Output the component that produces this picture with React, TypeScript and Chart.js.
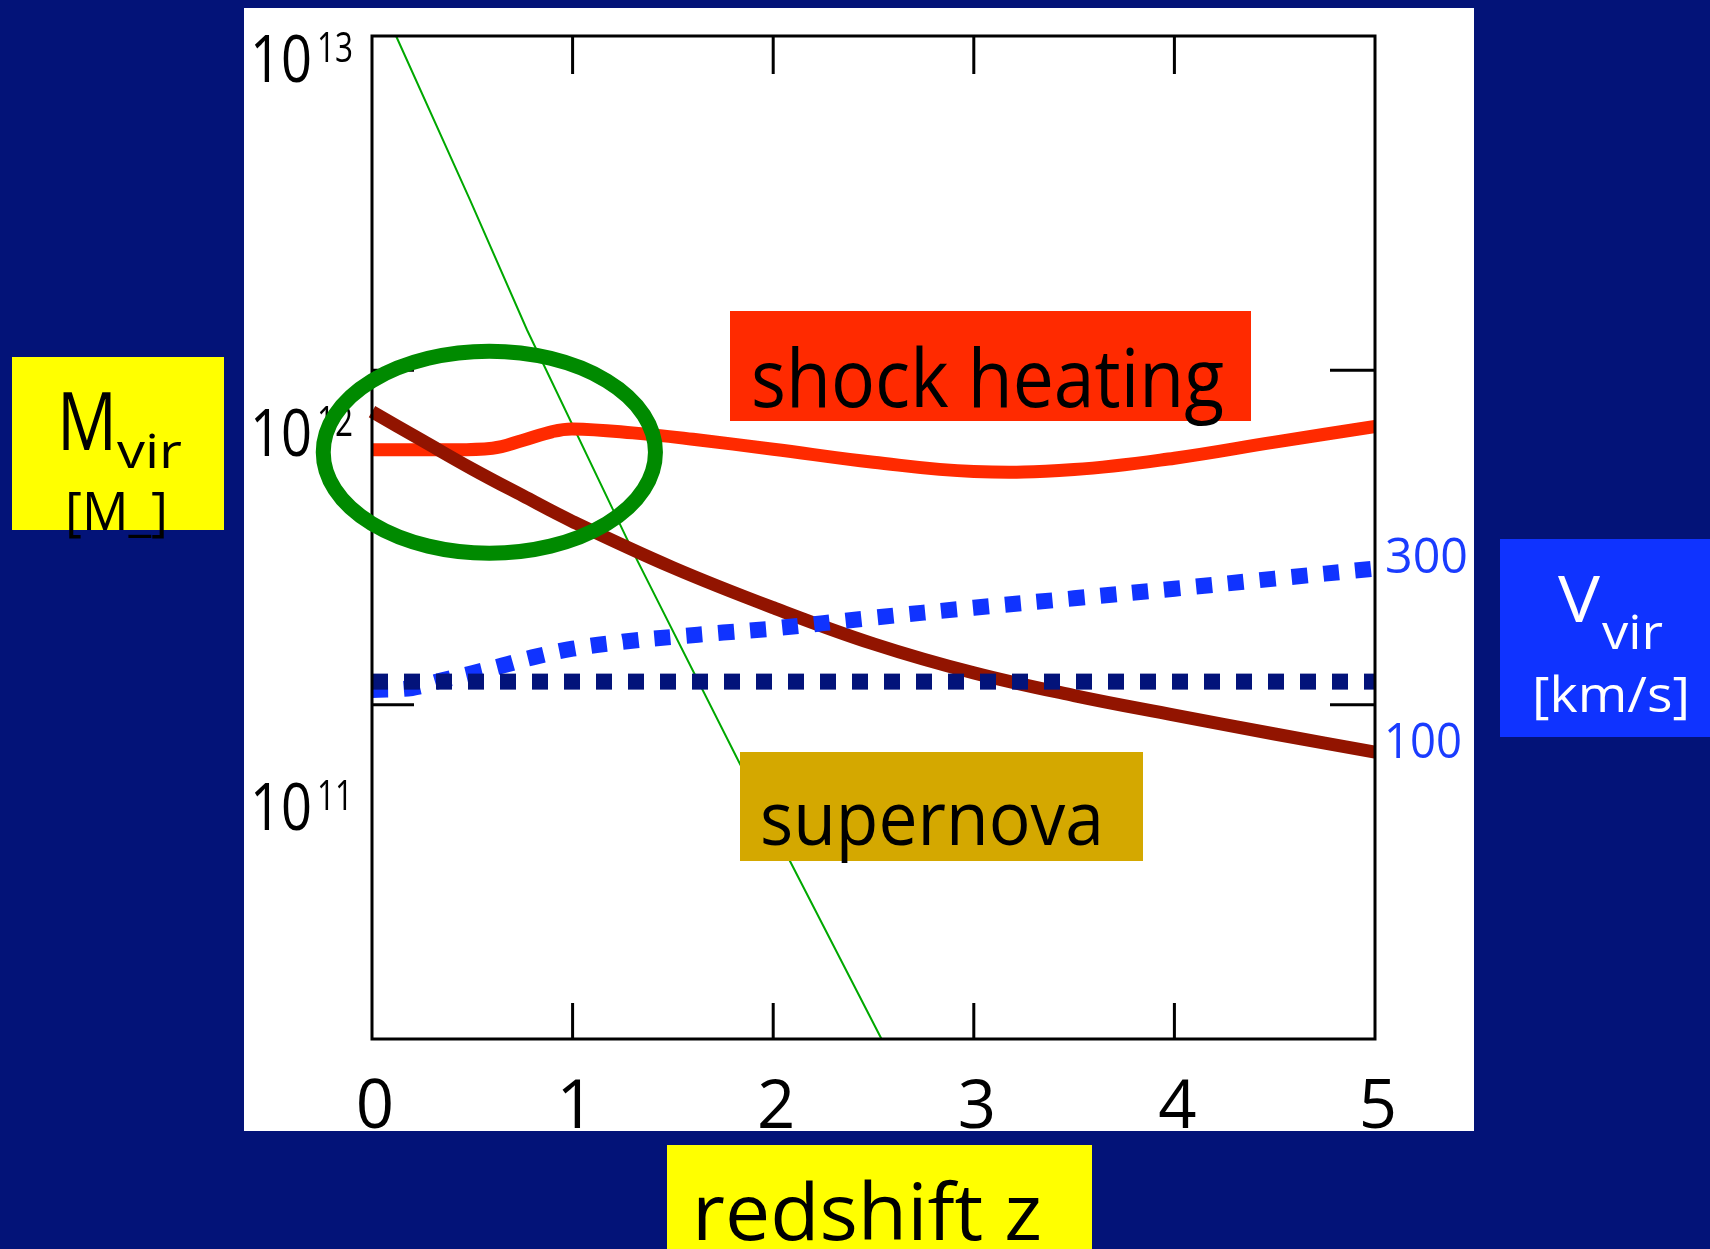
import React, { useEffect, useRef } from "react";
import { Chart, registerables } from "chart.js";

Chart.register(...registerables);

// ---------------- data ----------------
// redshift z  vs  halo virial mass M_vir [M_sun]
const shockZ = [0, 0.3, 0.6, 0.75, 0.9, 1.0, 1.3, 1.6, 2.0, 2.5, 3.0, 3.5, 4.0, 4.5, 5.0];
const shockM = [5.79e11, 5.79e11, 5.85e11, 6.17e11, 6.56e11, 6.68e11, 6.5e11, 6.22e11, 5.81e11, 5.31e11, 4.98e11, 5.05e11, 5.46e11, 6.1e11, 6.79e11];

const coolZ = [0, 0.25, 0.5, 0.75, 1.0, 1.5, 2.0, 2.5, 3.0, 3.5, 4.0, 4.5, 5.0];
const coolM = [7.52e11, 6.17e11, 5.07e11, 4.22e11, 3.53e11, 2.57e11, 1.95e11, 1.52e11, 1.245e11, 1.065e11, 9.31e10, 8.17e10, 7.21e10];

const vvirZ = [0, 0.2, 0.35, 0.5, 0.65, 0.8, 1.0, 1.25, 1.5, 1.75, 2.0, 2.5, 3.0, 3.5, 4.0, 4.5, 5.0];
const vvirM = [1.107e11, 1.122e11, 1.183e11, 1.242e11, 1.309e11, 1.385e11, 1.47e11, 1.542e11, 1.595e11, 1.643e11, 1.69e11, 1.82e11, 1.95e11, 2.08e11, 2.223e11, 2.382e11, 2.553e11];

const floorZ = [0, 5];
const floorM = [1.172e11, 1.172e11];

const nonlinZ = [0.12, 0.489, 0.773, 1.321, 1.825, 2.54];
const nonlinM = [1e13, 3.23e12, 1.32e12, 2.71e11, 6.82e10, 1e10];

const xLabelValues = [0, 1, 2, 3, 4, 5];
const xTickMarks = [1, 2, 3, 4];
const yTickMarks = [1e11, 1e12];
const yLabelValues = [1e13, 1e12, 1e11];
const yLabelBase = ["10", "10", "10"];
const yLabelExp = ["13", "12", "11"];
const vLabels = ["300", "100"];

// ellipse annotation (data units)
const ringCenterZ = 0.585;
const ringCenterM = 5.69e11;
const ringHalfZ = 0.828;
const ringHalfDex = 0.302;

// ---------------- styles / layout ----------------
const NAVY = "#031378";
const FONT = "'Comic Sans MS', 'Open Sans', 'DejaVu Sans', sans-serif";
const PANEL = { x: 244, y: 8, w: 1230, h: 1123 };
const yLabelDrop = [46, 86, 125];

const pts = (xs: number[], ys: number[]) => xs.map((x, i) => ({ x, y: ys[i] }));

function drawText(
  ctx: CanvasRenderingContext2D,
  str: string,
  x: number,
  y: number,
  size: number,
  color: string,
  fitW?: number,
  center?: boolean
) {
  ctx.save();
  ctx.font = `${size}px ${FONT}`;
  ctx.fillStyle = color;
  ctx.textBaseline = "alphabetic";
  ctx.textAlign = "left";
  const w = ctx.measureText(str).width;
  const sx = fitW ? fitW / w : 1;
  const left = center ? x - (w * sx) / 2 : x;
  ctx.translate(left, y);
  ctx.scale(sx, 1);
  ctx.fillText(str, 0, 0);
  ctx.restore();
}

const slidePlugin = {
  id: "slide",
  beforeDraw(chart: any) {
    const ctx = chart.ctx as CanvasRenderingContext2D;
    ctx.save();
    ctx.fillStyle = NAVY;
    ctx.fillRect(0, 0, chart.width, chart.height);
    ctx.fillStyle = "#ffffff";
    ctx.fillRect(PANEL.x, PANEL.y, PANEL.w, PANEL.h);
    ctx.restore();
  },
  afterDraw(chart: any) {
    const ctx = chart.ctx as CanvasRenderingContext2D;
    const a = chart.chartArea;
    const xs = chart.scales.x;
    const ys = chart.scales.y;

    // frame + inward ticks
    ctx.save();
    ctx.strokeStyle = "#000";
    ctx.lineWidth = 3;
    ctx.strokeRect(a.left, a.top, a.right - a.left, a.bottom - a.top);
    ctx.beginPath();
    for (const v of xTickMarks) {
      const px = xs.getPixelForValue(v);
      ctx.moveTo(px, a.top);
      ctx.lineTo(px, a.top + 38);
      ctx.moveTo(px, a.bottom);
      ctx.lineTo(px, a.bottom - 36);
    }
    for (const v of yTickMarks) {
      const py = ys.getPixelForValue(v);
      ctx.moveTo(a.left, py);
      ctx.lineTo(a.left + 42, py);
      ctx.moveTo(a.right, py);
      ctx.lineTo(a.right - 45, py);
    }
    ctx.stroke();
    ctx.restore();

    // x labels
    for (const v of xLabelValues) {
      drawText(ctx, String(v), xs.getPixelForValue(v) + 3, a.bottom + 89, 67, "#000", undefined, true);
    }
    // y labels 10^n
    yLabelValues.forEach((v, i) => {
      const base = ys.getPixelForValue(v) + yLabelDrop[i];
      drawText(ctx, yLabelBase[i], a.left - 122, base, 66, "#000", 62);
      drawText(ctx, yLabelExp[i], a.left - 55, base - 20, 42, "#000", 36);
    });

    // green ring
    const cx = xs.getPixelForValue(ringCenterZ);
    const cy = ys.getPixelForValue(ringCenterM);
    const rx = xs.getPixelForValue(ringCenterZ + ringHalfZ) - cx;
    const ry = cy - ys.getPixelForValue(ringCenterM * Math.pow(10, ringHalfDex));
    ctx.save();
    ctx.strokeStyle = "#008a00";
    ctx.lineWidth = 15;
    ctx.beginPath();
    ctx.ellipse(cx, cy, rx, ry, 0, 0, Math.PI * 2);
    ctx.stroke();
    ctx.restore();

    // labelled boxes
    ctx.save();
    ctx.fillStyle = "#ff2a00";
    ctx.fillRect(730, 311, 521, 110);
    ctx.fillStyle = "#d4a800";
    ctx.fillRect(740, 752, 403, 109);
    ctx.fillStyle = "#ffff00";
    ctx.fillRect(12, 357, 212, 173);
    ctx.fillRect(667, 1145, 425, 104);
    ctx.fillStyle = "#0f33ff";
    ctx.fillRect(1500, 539, 210, 198);
    ctx.restore();

    drawText(ctx, "shock heating", 751, 407, 80, "#000", 473);
    drawText(ctx, "supernova", 760, 845, 75, "#000", 344);
    drawText(ctx, "redshift z", 692, 1240, 78, "#000", 350);

    drawText(ctx, "M", 57, 450, 80, "#000", 60);
    drawText(ctx, "vir", 117, 468, 48, "#000", 65);
    drawText(ctx, "[M_]", 65, 530, 53, "#000", 103);

    drawText(ctx, "V", 1558, 622, 64, "#fff", 42);
    drawText(ctx, "vir", 1602, 649, 48, "#fff", 61);
    drawText(ctx, "[km/s]", 1532, 712, 50, "#fff", 158);

    drawText(ctx, vLabels[0], 1385, 573, 49, "#1a3cff", 83);
    drawText(ctx, vLabels[1], 1384, 758, 50, "#1a3cff", 78);
  },
};

export default function App() {
  const ref = useRef<HTMLCanvasElement | null>(null);

  useEffect(() => {
    if (!ref.current) return;
    const chart = new Chart(ref.current, {
      type: "line",
      data: {
        datasets: [
          {
            label: "floor",
            data: pts(floorZ, floorM),
            borderColor: "#03137a",
            borderWidth: 16,
            borderDash: [16, 16],
            borderCapStyle: "butt",
            tension: 0,
            pointRadius: 0,
            clip: false as any,
          },
          {
            label: "Vvir",
            data: pts(vvirZ, vvirM),
            borderColor: "#1033ff",
            borderWidth: 16,
            borderDash: [16, 16],
            borderCapStyle: "butt",
            tension: 0.4,
            pointRadius: 0,
            clip: false as any,
          },
          {
            label: "cooling",
            data: pts(coolZ, coolM),
            borderColor: "#921400",
            borderWidth: 13,
            borderCapStyle: "butt",
            tension: 0.4,
            pointRadius: 0,
            clip: false as any,
          },
          {
            label: "shock",
            data: pts(shockZ, shockM),
            borderColor: "#ff2a00",
            borderWidth: 13,
            borderCapStyle: "butt",
            tension: 0.4,
            pointRadius: 0,
            clip: false as any,
          },
          {
            label: "nonlinear",
            data: pts(nonlinZ, nonlinM),
            borderColor: "#00a800",
            borderWidth: 2,
            tension: 0,
            pointRadius: 0,
            clip: false as any,
          },
        ],
      },
      options: {
        responsive: false,
        animation: false,
        devicePixelRatio: 1,
        layout: { padding: { left: 372, right: 335, top: 36, bottom: 210 } },
        plugins: { legend: { display: false }, tooltip: { enabled: false } },
        scales: {
          x: { type: "linear", min: 0, max: 5, display: false },
          y: { type: "logarithmic", min: 1e10, max: 1e13, display: false },
        },
      },
      plugins: [slidePlugin],
    } as any);
    return () => chart.destroy();
  }, []);

  return (
    <div style={{ position: "fixed", left: 0, top: 0, width: 1710, height: 1249, background: NAVY }}>
      <canvas ref={ref} width={1710} height={1249} style={{ display: "block" }} />
    </div>
  );
}
